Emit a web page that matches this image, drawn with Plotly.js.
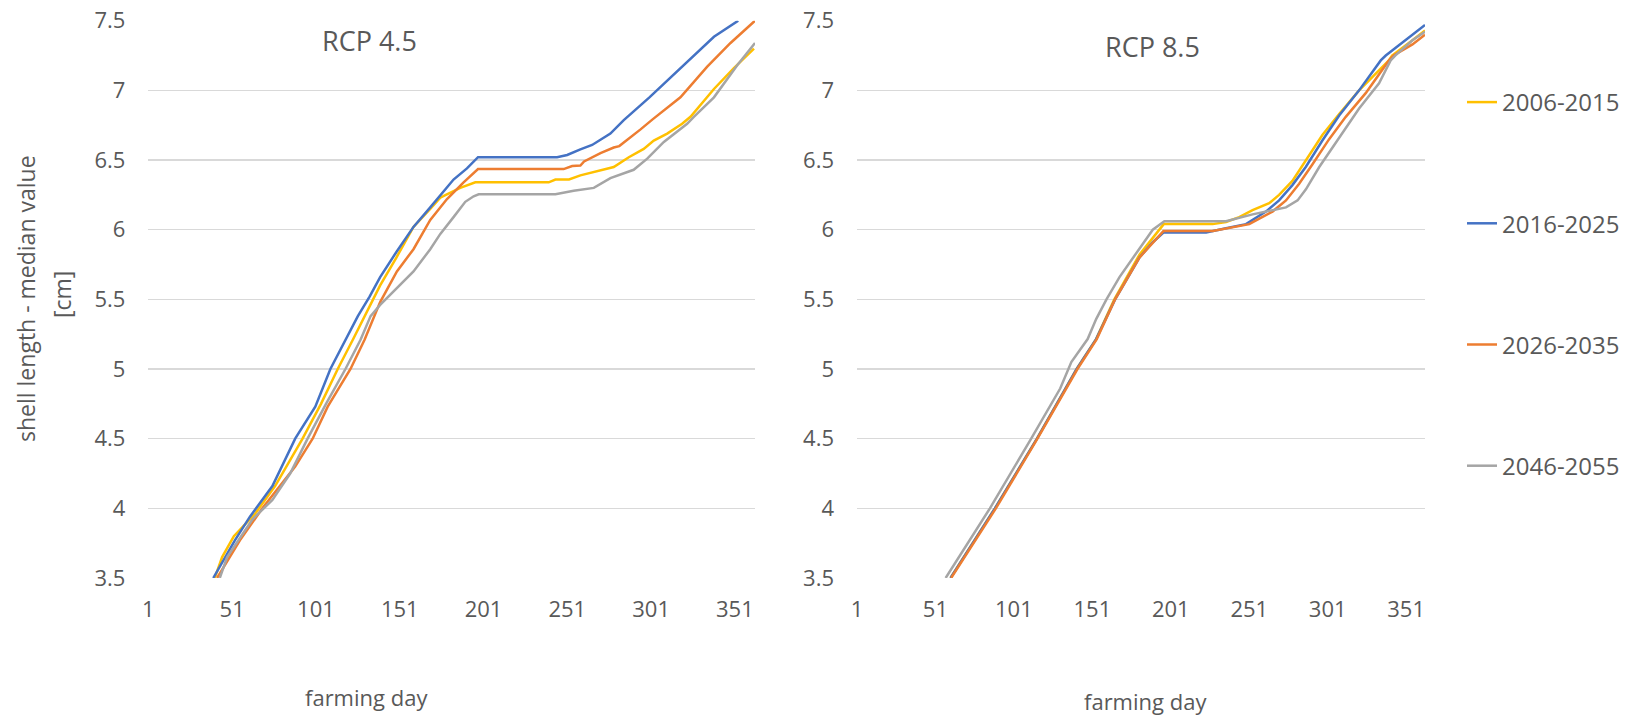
<!DOCTYPE html>
<html>
<head>
<meta charset="utf-8">
<script src="https://cdn.plot.ly/plotly-3.0.1.min.js"></script>
<style>html,body{margin:0;padding:0;background:#fff;}#chart{width:1635px;height:719px;}</style>
</head>
<body>
<div id="chart"></div>
<script>
// ---------- DATA ----------
const seriesNames = ["2006-2015", "2016-2025", "2026-2035", "2046-2055"];
const xTickVals = [1, 51, 101, 151, 201, 251, 301, 351];
const yTickVals = [3.5, 4, 4.5, 5, 5.5, 6, 6.5, 7, 7.5];
const panelTitles = ["RCP 4.5", "RCP 8.5"];

// RCP 4.5
const rcp45Days2006 = [40.6, 45, 52, 64.6, 76.6, 93, 104, 114, 123, 130, 139.3, 149, 159.2, 169.2, 175.2, 178.5, 187.1, 196.1, 239.9, 243.9, 252, 258.8, 265, 278.7, 287.7, 296.6, 302.6, 310.6, 319.5, 324.5, 338.5, 350.4, 362.4];
const rcp45Vals2006 = [3.5, 3.65, 3.8, 3.96, 4.16, 4.5, 4.75, 5.0, 5.21, 5.38, 5.60, 5.80, 6.02, 6.15, 6.23, 6.25, 6.30, 6.34, 6.34, 6.36, 6.36, 6.39, 6.41, 6.45, 6.52, 6.58, 6.64, 6.69, 6.76, 6.81, 7.01, 7.16, 7.30];

const rcp45Days2016 = [39.7, 52.6, 61.6, 75, 88.6, 100.6, 109.6, 118.6, 126, 133, 139.3, 149, 159.2, 169.2, 183.1, 191.1, 197.7, 244.9, 250.9, 258.8, 265.8, 276.7, 284.7, 300, 318.5, 338.5, 353];
const rcp45Vals2016 = [3.5, 3.77, 3.94, 4.16, 4.5, 4.73, 5.0, 5.21, 5.38, 5.52, 5.66, 5.84, 6.02, 6.16, 6.36, 6.44, 6.52, 6.52, 6.536, 6.577, 6.608, 6.69, 6.787, 6.95, 7.157, 7.385, 7.5];

const rcp45Days2026 = [42, 55.6, 69, 79.6, 88.6, 99, 108, 121.6, 130, 139.3, 149.3, 159.2, 169.2, 179.2, 189.1, 197.7, 248.8, 253.9, 258.8, 261, 270.8, 278.7, 282, 294.7, 301.7, 318.5, 334.5, 348.4, 363];
const rcp45Vals2026 = [3.5, 3.77, 4.0, 4.16, 4.3, 4.5, 4.73, 5.0, 5.21, 5.48, 5.70, 5.86, 6.07, 6.22, 6.34, 6.435, 6.435, 6.457, 6.46, 6.49, 6.55, 6.59, 6.60, 6.72, 6.79, 6.95, 7.17, 7.34, 7.5];

const rcp45Days2046 = [43.6, 48, 63, 75, 85.6, 96, 107, 118.6, 127.6, 133.6, 139.3, 149.3, 159.2, 169.2, 175.2, 183.1, 190.1, 195.1, 198.1, 243.9, 254.8, 266.8, 276.7, 290.6, 298.7, 308.6, 322.5, 326.5, 338.5, 352.4, 363];
const rcp45Vals2046 = [3.5, 3.65, 3.92, 4.06, 4.25, 4.5, 4.75, 5.0, 5.21, 5.38, 5.46, 5.58, 5.70, 5.86, 5.97, 6.09, 6.20, 6.24, 6.254, 6.254, 6.28, 6.30, 6.37, 6.43, 6.51, 6.63, 6.76, 6.81, 6.95, 7.18, 7.34];

// RCP 8.5
const rcp85Days2006 = [60.6, 88.9, 115.7, 141, 153.4, 159.5, 165, 181, 188, 196.5, 227.7, 236.2, 244.6, 253.1, 263.7, 270, 278.5, 287, 297.6, 308.3, 321, 340, 342, 355, 363];
const rcp85Vals2006 = [3.5, 4.0, 4.5, 5.0, 5.215, 5.37, 5.5, 5.82, 5.92, 6.04, 6.04, 6.055, 6.09, 6.14, 6.19, 6.25, 6.35, 6.5, 6.68, 6.83, 7.0, 7.215, 7.25, 7.36, 7.43];

const rcp85Days2016 = [60.6, 88.9, 115.7, 141, 153.4, 159.8, 165.5, 181, 189.5, 196.3, 223.5, 236.2, 248.9, 261.6, 270, 278.5, 287, 297.6, 308.3, 321, 334.8, 338, 355, 363];
const rcp85Vals2016 = [3.5, 4.0, 4.5, 5.0, 5.215, 5.36, 5.5, 5.80, 5.91, 5.98, 5.98, 6.01, 6.04, 6.13, 6.21, 6.32, 6.45, 6.64, 6.82, 7.0, 7.215, 7.25, 7.40, 7.47];

const rcp85Days2026 = [61, 89.5, 116, 141.5, 153.8, 160, 165.5, 181, 189.5, 196.3, 227.7, 236.2, 251, 257.4, 265.8, 274.4, 282.8, 291.3, 301.9, 312.5, 325.2, 340, 343, 355, 363];
const rcp85Vals2026 = [3.5, 4.0, 4.5, 5.0, 5.215, 5.36, 5.5, 5.80, 5.91, 5.99, 5.99, 6.01, 6.04, 6.08, 6.13, 6.21, 6.33, 6.47, 6.65, 6.81, 6.98, 7.215, 7.25, 7.33, 7.40];

const rcp85Days2046 = [57.5, 85.7, 112, 130.5, 137.6, 148, 153.5, 160, 168.3, 181, 189.5, 196.9, 236.2, 253.1, 265.8, 274.4, 281.8, 287.1, 295.6, 308.3, 321, 333.7, 341.1, 344, 355, 363];
const rcp85Vals2046 = [3.5, 4.0, 4.5, 4.86, 5.05, 5.215, 5.36, 5.5, 5.66, 5.86, 6.0, 6.06, 6.06, 6.11, 6.14, 6.16, 6.21, 6.29, 6.45, 6.66, 6.87, 7.05, 7.215, 7.25, 7.36, 7.42];

// ---------- STYLE ----------
const colors = ["#FFC000", "#4472C4", "#ED7D31", "#A5A5A5"];
const FONT = "'Open Sans', 'Noto Sans', sans-serif";
const TXT = "#595959";
const W = 1635, H = 719;
const px = v => v / W;
const py = v => 1 - v / H;

const left = [[rcp45Days2006, rcp45Vals2006], [rcp45Days2016, rcp45Vals2016], [rcp45Days2026, rcp45Vals2026], [rcp45Days2046, rcp45Vals2046]];
const right = [[rcp85Days2006, rcp85Vals2006], [rcp85Days2016, rcp85Vals2016], [rcp85Days2026, rcp85Vals2026], [rcp85Days2046, rcp85Vals2046]];

const traces = [];
left.forEach((s, i) => traces.push({
  x: s[0], y: s[1], type: "scatter", mode: "lines", name: seriesNames[i],
  legendgroup: "g" + i, showlegend: false, xaxis: "x", yaxis: "y",
  line: {color: colors[i], width: 2.5}, hoverinfo: "x+y+name"
}));
right.forEach((s, i) => traces.push({
  x: s[0], y: s[1], type: "scatter", mode: "lines", name: seriesNames[i],
  legendgroup: "g" + i, showlegend: true, xaxis: "x2", yaxis: "y2",
  line: {color: colors[i], width: 2.5}, hoverinfo: "x+y+name"
}));

const yTop = 20.7, yBot = 578;
const xAx = (dom, anchor) => ({
  domain: dom, anchor: anchor, range: [1, 363], tickmode: "array", tickvals: xTickVals,
  ticktext: xTickVals.map(String), showgrid: false, zeroline: false, showline: false,
  ticks: "", ticklabelstandoff: 16, tickfont: {family: FONT, size: 22, color: TXT}
});
const yAx = (anchor) => ({
  domain: [py(yBot), py(yTop)], anchor: anchor, range: [3.5, 7.5], tickmode: "array",
  tickvals: yTickVals, ticktext: yTickVals.map(String), showgrid: true,
  gridcolor: "#D9D9D9", gridwidth: 1.3, zeroline: false, showline: false, ticks: "",
  ticklabelstandoff: 22, tickfont: {family: FONT, size: 22, color: TXT}
});

const ann = (text, x, y, size, angle) => ({
  text: text, x: px(x), y: py(y), xref: "paper", yref: "paper", showarrow: false,
  xanchor: "center", yanchor: "middle", textangle: angle || 0,
  font: {family: FONT, size: size, color: TXT}
});

const layout = {
  width: W, height: H, margin: {l: 0, r: 0, t: 0, b: 0},
  paper_bgcolor: "#ffffff", plot_bgcolor: "#ffffff",
  xaxis: xAx([px(148.4), px(755)], "y"),
  yaxis: yAx("x"),
  xaxis2: xAx([px(857), px(1425)], "y2"),
  yaxis2: yAx("x2"),
  showlegend: true,
  legend: {
    x: px(1462), y: py(80), xanchor: "left", yanchor: "top",
    traceorder: "grouped", tracegroupgap: 87,
    font: {family: FONT, size: 24, color: TXT}, bgcolor: "rgba(0,0,0,0)", itemwidth: 30
  },
  annotations: [
    ann(panelTitles[0], 369, 41, 27),
    ann(panelTitles[1], 1152, 46, 27),
    ann("farming day", 366, 697, 22),
    ann("farming day", 1145, 701, 22),
    ann("shell length - median value", 26, 299, 23, -90),
    ann("[cm]", 62, 295, 23, -90)
  ]
};

Plotly.newPlot("chart", traces, layout, {displayModeBar: false, staticPlot: true});
</script>
</body>
</html>
